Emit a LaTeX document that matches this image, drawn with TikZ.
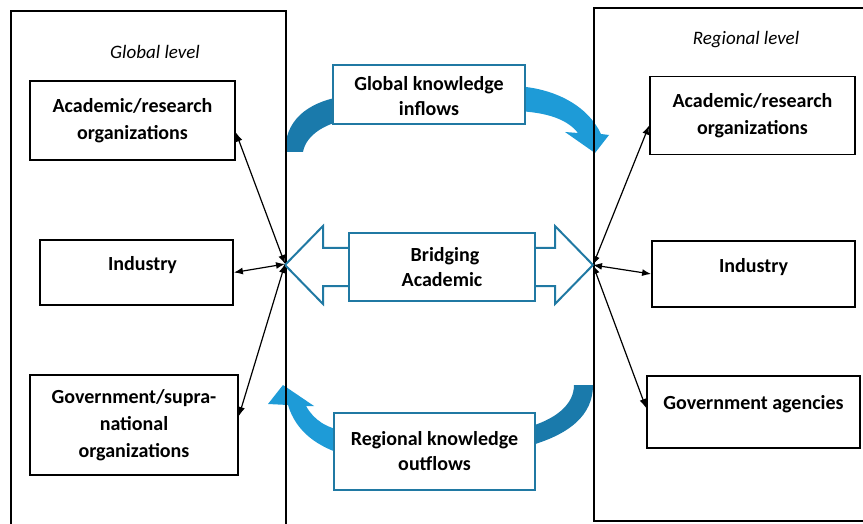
\documentclass[tikz,border=0pt]{standalone}
\usepackage{fontspec}
\setmainfont{Carlito}
\usetikzlibrary{arrows.meta}

\definecolor{flowdark}{HTML}{1A7AAB}
\definecolor{flowlight}{HTML}{1E9BD7}
\definecolor{flowedge}{HTML}{2079A3}

% keeps one-line labels a bit above the middle of their box
\newcommand{\lifted}[2]{\raisebox{#1}[\height][\depth]{#2}}

\begin{document}
\begin{tikzpicture}[x=1pt,y=-1pt]

    % Styles
    \tikzstyle{level} = [rectangle, draw=black, line width=2pt, inner sep=0pt, anchor=north west]
    \tikzstyle{actor} = [rectangle, draw=black, line width=1.8pt, fill=white, align=center, inner sep=0pt, font=\fontsize{20}{27}\selectfont\bfseries]
    \tikzstyle{flow} = [rectangle, draw=flowedge, line width=2pt, fill=white, align=center, inner sep=0pt, font=\fontsize{20}{25}\selectfont\bfseries]
    \tikzstyle{tag} = [font=\fontsize{19}{23}\selectfont\itshape]
    \tikzstyle{link} = [line width=1.2pt, {Latex[length=9pt,width=7pt]}-{Latex[length=9pt,width=7pt]}]

    \useasboundingbox (0,0) rectangle (863,524);

    % Knowledge flow bands (behind the boxes)
    \fill[flowdark] (285,152) .. controls (285,122) and (305,102) .. (345,96)
        -- (345,120) .. controls (325,124) and (306,135) .. (303,152) -- cycle;
    \fill[flowlight] (515,86) .. controls (555,88) and (588,106) .. (601,134)
        -- (609,135) -- (595,153) -- (565,132) -- (578,133)
        .. controls (568,120) and (548,112) .. (515,111) -- cycle;
    \fill[flowdark] (574,385) -- (593,385) .. controls (593,415) and (570,435) .. (525,447)
        -- (525,428) .. controls (555,420) and (574,405) .. (574,385) -- cycle;
    \fill[flowlight] (283,385) -- (314,406) -- (306,406)
        .. controls (314,420) and (326,428) .. (345,431)
        -- (345,455) .. controls (318,447) and (296,432) .. (288,405)
        -- (268,404) -- cycle;

    % Levels
    \node[level, minimum width=275, minimum height=530] (global) at (10,10) {};
    \node[level, minimum width=280, minimum height=513] (regional) at (593,7) {};
    \node[tag] (globalTag) at (155,52) {Global level};
    \node[tag] (regionalTag) at (746,40) {Regional level};

    % Bridging double arrow
    \draw[flowedge, line width=2pt, fill=white, line join=miter]
        (285,265) -- (323,226) -- (323,248) -- (555,248) -- (555,226) -- (593,265)
        -- (555,304) -- (555,286) -- (323,286) -- (323,304) -- cycle;

    % Flow labels
    \node[flow, minimum width=192, minimum height=59] (inflow) at (429,95) {\lifted{-3pt}{\begin{tabular}{@{}c@{}}Global knowledge\\inflows\end{tabular}}};
    \node[flow, minimum width=186, minimum height=68] (bridge) at (442,267) {\hspace*{6pt}Bridging\\Academic};
    \node[flow, minimum width=201, minimum height=77] (outflow) at (434.5,451.5) {Regional knowledge\\outflows};

    % Actors at global level
    \node[actor, minimum width=205, minimum height=79] (gAcad) at (132.5,120.5) {Academic/research\\organizations};
    \node[actor, minimum width=193, minimum height=65] (gInd) at (136.5,272.5) {\lifted{7pt}{\hspace*{12pt}Industry}};
    \node[actor, minimum width=208, minimum height=100] (gGov) at (134,425) {Government/supra-\\national\\organizations};

    % Actors at regional level
    \node[actor, minimum width=205, minimum height=78] (rAcad) at (752.5,115.5) {Academic/research\\organizations};
    \node[actor, minimum width=203, minimum height=66] (rInd) at (753.5,274) {\lifted{7pt}{Industry}};
    \node[actor, minimum width=213, minimum height=72] (rGov) at (753.5,412) {\lifted{8pt}{Government agencies}};

    % Links
    \coordinate (gHub) at (285,264);
    \coordinate (rHub) at (593,265);
    \draw[link] (gHub) -- ([yshift=-12pt]gAcad.east);
    \draw[link] (gHub) -- (gInd.east);
    \draw[link] (gHub) -- ([yshift=9pt]gGov.east);
    \draw[link] (rHub) -- ([yshift=-10pt]rAcad.west);
    \draw[link] (rHub) -- (rInd.west);
    \draw[link] (rHub) -- ([yshift=4pt]rGov.west);

\end{tikzpicture}
\end{document}
